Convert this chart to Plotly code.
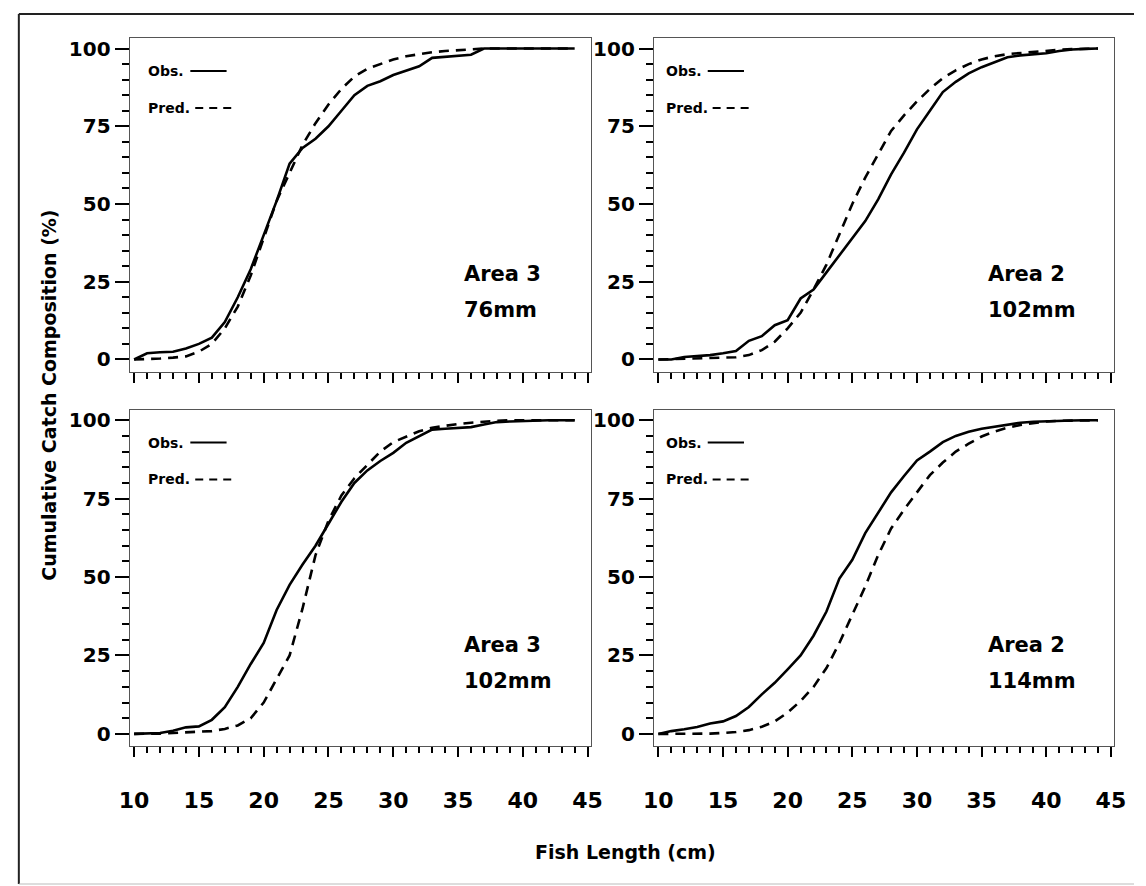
import plotly.graph_objects as go

# ---------------- data ----------------
lengths = list(range(10, 45))

tl_obs = [0, 2, 2.3, 2.5, 3.5, 5, 7, 12, 20, 29, 40, 51, 63, 68, 71, 75, 80, 85, 88, 89.5,
          91.5, 93, 94.3, 97, 97.3, 97.6, 98, 100, 100, 100, 100, 100, 100, 100, 100]
tl_pred = [0, 0.1, 0.3, 0.6, 1, 2.5, 5, 10, 17, 27, 39, 51, 60, 69, 76, 82, 87, 91, 93.5, 95,
           96.5, 97.5, 98.2, 98.8, 99.2, 99.5, 99.8, 100, 100, 100, 100, 100, 100, 100, 100]

tr_obs = [0, 0, 0.8, 1.1, 1.4, 2, 2.7, 6, 7.5, 11, 12.6, 19.6, 22.5, 28, 33.5, 39, 44.5, 51.5,
          59.5, 66.5, 74, 80, 86, 89.3, 92, 94, 95.7, 97.2, 97.8, 98.2, 98.5, 99.2, 99.7, 99.9, 100]
tr_pred = [0, 0.1, 0.2, 0.3, 0.4, 0.5, 0.7, 1.4, 3, 5.7, 10, 15, 22.5, 30.5, 40, 50, 58.5, 66,
           73.5, 78.5, 83, 87, 90.5, 93, 95, 96.5, 97.5, 98.2, 98.6, 99, 99.3, 99.6, 99.8, 99.9, 100]

bl_obs = [0, 0.1, 0.3, 1, 2.1, 2.4, 4.5, 8.5, 15, 22.3, 29, 39.5, 47.5, 54, 60, 67, 74, 80, 84,
          87, 89.6, 92.8, 95, 97, 97.3, 97.5, 97.8, 98.6, 99.4, 99.6, 99.8, 99.9, 100, 100, 100]
bl_pred = [0, 0, 0.1, 0.3, 0.5, 0.7, 0.9, 1.6, 2.7, 5, 10, 17.5, 25, 40, 57, 68, 76, 81.5, 85.6,
           90, 93, 94.8, 96.5, 97.6, 98.3, 98.8, 99.2, 99.6, 99.8, 100, 100, 100, 100, 100, 100]

br_obs = [0, 0.9, 1.5, 2.2, 3.3, 4, 5.7, 8.6, 12.6, 16.3, 20.6, 25, 31.3, 39, 49.5, 55.5, 64,
          70.5, 77, 82.2, 87.2, 90, 93, 95, 96.3, 97.3, 97.9, 98.6, 99.2, 99.5, 99.7, 99.8, 99.9, 100, 100]
br_pred = [0, 0, 0, 0.05, 0.1, 0.3, 0.6, 1.2, 2.3, 4, 6.8, 10.5, 15, 21, 29, 38, 47, 57, 65.5,
           71.5, 77, 82.5, 86.5, 90, 92.5, 94.8, 96.4, 97.6, 98.5, 99.1, 99.6, 99.8, 99.9, 100, 100]

panel_area = ["Area 3", "Area 2", "Area 3", "Area 2"]
panel_mesh = ["76mm", "102mm", "102mm", "114mm"]
y_ticks = [0, 25, 50, 75, 100]
x_ticks = [10, 15, 20, 25, 30, 35, 40, 45]

panels = [(tl_obs, tl_pred), (tr_obs, tr_pred), (bl_obs, bl_pred), (br_obs, br_pred)]

# ---------------- layout geometry (pixels) ----------------
W, H = 1146, 886
col_px = [(121, 592), (656, 1126)]
row_px = [(37, 371), (409, 746)]
FONT = "DejaVu Sans"


def px_x(v):
    return v / W


def px_y(v):
    return (H - v) / H


fig = go.Figure()
shapes = []
annotations = []

for i, (obs, pred) in enumerate(panels):
    r, c = divmod(i, 2)
    n = i + 1
    xa = "x" if n == 1 else f"x{n}"
    ya = "y" if n == 1 else f"y{n}"
    fig.add_trace(go.Scatter(x=lengths, y=obs, mode="lines", xaxis=xa, yaxis=ya,
                             line=dict(color="black", width=2.6), showlegend=False))
    fig.add_trace(go.Scatter(x=lengths, y=pred, mode="lines", xaxis=xa, yaxis=ya,
                             line=dict(color="black", width=2.6, dash="10px,7px"),
                             showlegend=False))

    x0, x1 = col_px[c]
    y0, y1 = row_px[r]
    xkey = "xaxis" if n == 1 else f"xaxis{n}"
    ykey = "yaxis" if n == 1 else f"yaxis{n}"
    fig.update_layout(**{
        xkey: dict(domain=[px_x(x0), px_x(x1)], anchor=ya, range=[9.65, 45.27],
                   tickmode="array", tickvals=x_ticks, showticklabels=(r == 1),
                   ticks="outside", ticklen=10, tickwidth=1.6, tickcolor="black",
                   minor=dict(dtick=1, tick0=10, ticks="outside", ticklen=6, tickwidth=1.6,
                              tickcolor="black", showgrid=False),
                   showline=True, mirror=True, linecolor="#555", linewidth=1,
                   showgrid=False, zeroline=False, ticklabelstandoff=24,
                   tickfont=dict(family=FONT, size=22, color="black", weight="bold")),
        ykey: dict(domain=[px_y(y1), px_y(y0)], anchor=xa, range=[-3.9, 103.4],
                   tickmode="array", tickvals=y_ticks,
                   ticks="outside", ticklen=14, tickwidth=1.6, tickcolor="black",
                   minor=dict(dtick=5, tick0=0, ticks="outside", ticklen=7, tickwidth=1.6,
                              tickcolor="black", showgrid=False),
                   showline=True, mirror=True, linecolor="#555", linewidth=1,
                   showgrid=False, zeroline=False,
                   tickfont=dict(family=FONT, size=20, color="black", weight="bold")),
    })

    # in-panel legend
    lx = x0 + (17 if c == 0 else 10)
    for k, (lab, dash) in enumerate([("Obs.", "solid"), ("Pred.", "8px,6px")]):
        ly = y0 + 33 + k * 37
        annotations.append(dict(x=px_x(lx), y=px_y(ly), xref="paper", yref="paper",
                                text=lab, showarrow=False, xanchor="left", yanchor="middle",
                                font=dict(family=FONT, size=14, color="black", weight="bold")))
        sx = lx + (45 if k == 0 else 50)
        shapes.append(dict(type="line", xref="paper", yref="paper",
                           x0=px_x(sx), x1=px_x(sx + 37), y0=px_y(ly), y1=px_y(ly),
                           line=dict(color="black", width=2, dash=dash)))

    # area / mesh labels
    ax = x0 + 339
    annotations.append(dict(x=px_x(ax), y=px_y(y0 + 236), xref="paper", yref="paper",
                            text=panel_area[i], showarrow=False, xanchor="left", yanchor="middle",
                            font=dict(family=FONT, size=21, color="black", weight="bold")))
    annotations.append(dict(x=px_x(ax), y=px_y(y0 + 272), xref="paper", yref="paper",
                            text=panel_mesh[i], showarrow=False, xanchor="left", yanchor="middle",
                            font=dict(family=FONT, size=21, color="black", weight="bold")))

# axis titles
annotations.append(dict(x=px_x(38), y=px_y(395), xref="paper", yref="paper",
                        text="Cumulative Catch Composition (%)", textangle=-90, showarrow=False,
                        xanchor="center", yanchor="middle",
                        font=dict(family=FONT, size=19, color="black", weight="bold")))
annotations.append(dict(x=px_x(627), y=px_y(852), xref="paper", yref="paper",
                        text="Fish Length (cm)", showarrow=False,
                        xanchor="center", yanchor="middle",
                        font=dict(family=FONT, size=19, color="black", weight="bold")))

# outer frame
shapes += [
    dict(type="line", xref="paper", yref="paper", x0=px_x(8), x1=1, y0=px_y(13), y1=px_y(13),
         line=dict(color="#222", width=2)),
    dict(type="line", xref="paper", yref="paper", x0=px_x(8), x1=px_x(8), y0=px_y(13), y1=px_y(884),
         line=dict(color="#222", width=2)),
    dict(type="line", xref="paper", yref="paper", x0=px_x(8), x1=1, y0=px_y(884), y1=px_y(884),
         line=dict(color="#bbb", width=1)),
]

fig.update_layout(width=W, height=H, margin=dict(l=0, r=0, t=0, b=0),
                  paper_bgcolor="white", plot_bgcolor="white",
                  shapes=shapes, annotations=annotations, showlegend=False)

fig.write_html("out.html")
